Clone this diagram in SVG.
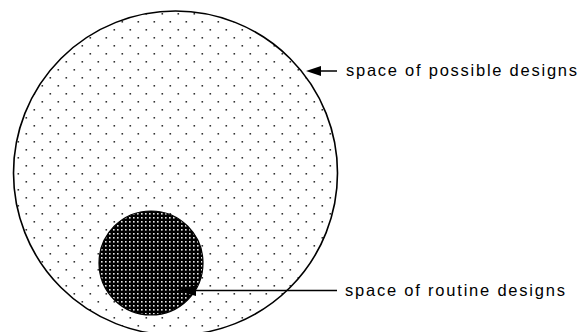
<svg xmlns="http://www.w3.org/2000/svg" width="579" height="332" viewBox="0 0 579 332">
  <style>
    .label { font-family: "Liberation Sans", Arial, sans-serif; font-size: 16.5px; fill: #000; }
    .conn { stroke: #000; stroke-width: 1.5; fill: none; }
  </style>
  <defs>
    <pattern id="lightDots" patternUnits="userSpaceOnUse" x="0" y="0" width="16" height="16">
      <rect x="9.5" y="5" width="1.6" height="1.6" fill="#333"/>
      <rect x="1.5" y="13" width="1.6" height="1.6" fill="#333"/>
    </pattern>
    <pattern id="darkDots" patternUnits="userSpaceOnUse" x="0" y="0" width="4" height="4">
      <rect x="0" y="0" width="4" height="4" fill="#000"/>
      <rect x="1" y="1" width="1.6" height="1.6" fill="#e8e8e8"/>
    </pattern>
  </defs>
  <rect width="579" height="332" fill="#fff"/>
  <g id="possible">
    <circle cx="175.5" cy="173" r="162" fill="url(#lightDots)" stroke="#000" stroke-width="1.6"/>
  </g>
  <g id="routine">
    <circle cx="151" cy="263" r="52" fill="url(#darkDots)" stroke="#000" stroke-width="1.2"/>
  </g>
  <g id="connectors">
    <line class="conn" x1="337" y1="71" x2="318" y2="71"/>
    <path d="M306,71 L321,66 L321,76 Z" fill="#000"/>
    <line class="conn" x1="337" y1="290.5" x2="192" y2="290.5"/>
    <path d="M177,290.5 L196,285 L196,296 Z" fill="#000"/>
  </g>
  <g id="labels">
    <text class="label" x="346" y="76" textLength="231" lengthAdjust="spacing">space of possible designs</text>
    <text class="label" x="345" y="295.5" textLength="220" lengthAdjust="spacing">space of routine designs</text>
  </g>
</svg>
